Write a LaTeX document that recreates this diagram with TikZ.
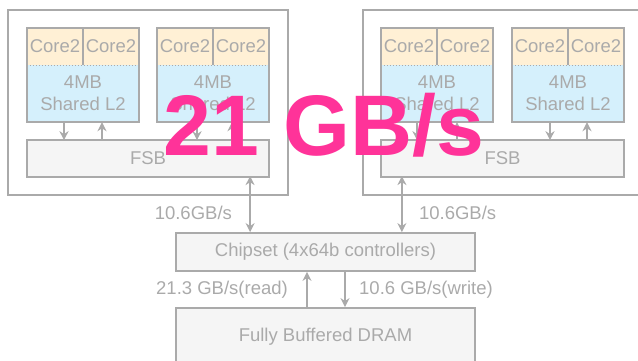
\documentclass[tikz,border=0pt]{standalone}
\usepackage{fontspec}
\setmainfont{Liberation Sans}
\usetikzlibrary{calc, arrows.meta}

\definecolor{linegray}{HTML}{AAAAAA}
\definecolor{coreorange}{HTML}{FFF0D5}
\definecolor{cacheblue}{HTML}{D5F0FC}
\definecolor{busgray}{HTML}{F5F5F5}
\definecolor{hotpink}{HTML}{FF3399}

\begin{document}
\begin{tikzpicture}[x=1pt, y=-1pt,
    every node/.style={text=linegray, inner sep=0pt,
        font=\fontsize{18.5}{22}\selectfont},
    core/.style={fill=coreorange, minimum width=56pt, minimum height=37pt},
    cache/.style={fill=cacheblue, minimum width=112pt, minimum height=57pt,
        align=center},
    box/.style={draw=linegray, line width=1.8pt},
    bus/.style={box, fill=busgray},
    link/.style={linegray, line width=1.8pt,
        -{Stealth[length=9pt, width=9pt]}},
    duplex/.style={link, {Stealth[length=9pt, width=9pt]}-{Stealth[length=9pt, width=9pt]}}]
    \useasboundingbox (0, 0) rectangle (638, 361);
    \clip (0, 0) rectangle (638, 361);

    % Packages
    \node (package_left) at (148, 102.5)
        [box, minimum width=280pt, minimum height=185pt] {};
    \node (package_right) at (503, 102.5)
        [box, minimum width=280pt, minimum height=185pt] {};

    % Sockets
    \node (cache_a) at (83, 93.5) [cache] {4MB\\Shared L2};
    \node (core_a1) at ($(cache_a) + (-28, -47)$) [core] {Core2};
    \node (core_a2) at ($(cache_a) + (28, -47)$) [core] {Core2};

    \node (cache_b) at (213, 93.5) [cache] {4MB\\Shared L2};
    \node (core_b1) at ($(cache_b) + (-28, -47)$) [core] {Core2};
    \node (core_b2) at ($(cache_b) + (28, -47)$) [core] {Core2};

    \node (cache_c) at (437, 93.5) [cache] {4MB\\Shared L2};
    \node (core_c1) at ($(cache_c) + (-28, -47)$) [core] {Core2};
    \node (core_c2) at ($(cache_c) + (28, -47)$) [core] {Core2};

    \node (cache_d) at (568, 93.5) [cache] {4MB\\Shared L2};
    \node (core_d1) at ($(cache_d) + (-28, -47)$) [core] {Core2};
    \node (core_d2) at ($(cache_d) + (28, -47)$) [core] {Core2};

    \draw [box] (core_a1.north west) rectangle (cache_a.south east);
    \draw [box] (core_b1.north west) rectangle (cache_b.south east);
    \draw [box] (core_c1.north west) rectangle (cache_c.south east);
    \draw [box] (core_d1.north west) rectangle (cache_d.south east);

    \draw [linegray, dotted, line width=1pt] (core_a1.south west) -- (core_a2.south east);
    \draw [linegray, dotted, line width=1pt] (core_b1.south west) -- (core_b2.south east);
    \draw [linegray, dotted, line width=1pt] (core_c1.south west) -- (core_c2.south east);
    \draw [linegray, dotted, line width=1pt] (core_d1.south west) -- (core_d2.south east);

    \draw [box] (core_a1.north east) -- (core_a1.south east);
    \draw [box] (core_b1.north east) -- (core_b1.south east);
    \draw [box] (core_c1.north east) -- (core_c1.south east);
    \draw [box] (core_d1.north east) -- (core_d1.south east);

    % Buses and memory
    \node (fsb_left) at (148, 158.5)
        [bus, minimum width=242pt, minimum height=37pt] {FSB};
    \node (fsb_right) at (502.5, 158.5)
        [bus, minimum width=243pt, minimum height=37pt] {FSB};
    \node (chipset) at (325.5, 252)
        [bus, minimum width=299pt, minimum height=38pt]
        {Chipset (4x64b controllers)};
    \node (dram) at ($(chipset) + (0, 85)$)
        [bus, minimum width=299pt, minimum height=58pt]
        {Fully Buffered DRAM};

    % Socket <-> FSB
    \draw [link] ($(cache_a.south) + (-19, 0)$) -- ($(cache_a.south) + (-19, 18)$);
    \draw [link] ($(cache_a.south) + (19, 18)$) -- ($(cache_a.south) + (19, 0)$);
    \draw [link] ($(cache_b.south) + (-16, 0)$) -- ($(cache_b.south) + (-16, 18)$);
    \draw [link] ($(cache_b.south) + (19, 18)$) -- ($(cache_b.south) + (19, 0)$);
    \draw [link] ($(cache_c.south) + (-20, 0)$) -- ($(cache_c.south) + (-20, 18)$);
    \draw [link] ($(cache_c.south) + (20, 18)$) -- ($(cache_c.south) + (20, 0)$);
    \draw [link] ($(cache_d.south) + (-18, 0)$) -- ($(cache_d.south) + (-18, 18)$);
    \draw [link] ($(cache_d.south) + (19, 18)$) -- ($(cache_d.south) + (19, 0)$);

    % FSB <-> chipset
    \draw [duplex] ($(chipset.north west) + (75, -56)$) -- ($(chipset.north west) + (75, 0)$);
    \draw [duplex] ($(chipset.north east) + (-74, -56)$) -- ($(chipset.north east) + (-74, 0)$);
    \node (rate_left) at ($(chipset.north west) + (57, -19)$) [left] {10.6GB/s};
    \node (rate_right) at ($(chipset.north east) + (-57, -19)$) [right] {10.6GB/s};

    % Chipset <-> DRAM
    \draw [link] ($(dram.north) + (-18.5, 0)$) -- ($(chipset.south) + (-18.5, 0)$);
    \draw [link] ($(chipset.south) + (19.5, 0)$) -- ($(dram.north) + (19.5, 0)$);
    \node (rate_read) at ($(chipset.south) + (-37.5, 18)$) [left] {21.3 GB/s(read)};
    \node (rate_write) at ($(chipset.south) + (33.5, 18)$) [right] {10.6 GB/s(write)};

    \node (headline) at (324, 156) [anchor=base, text=hotpink,
        font=\fontsize{86}{86}\selectfont\bfseries] {21 GB/s};
\end{tikzpicture}
\end{document}
